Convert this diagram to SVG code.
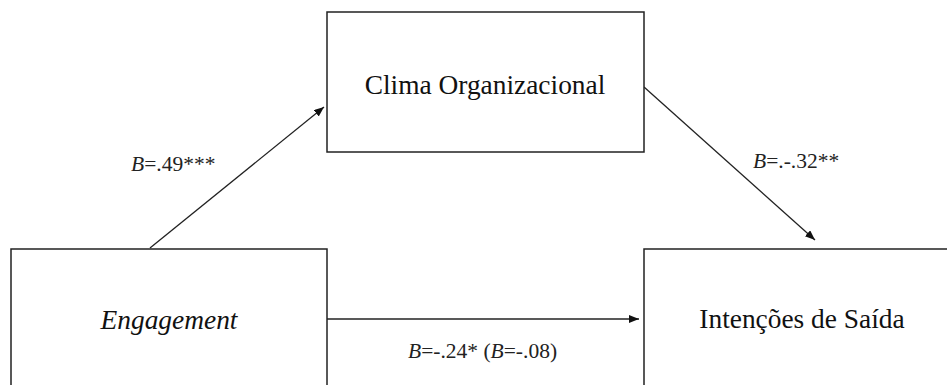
<svg xmlns="http://www.w3.org/2000/svg" width="947" height="385" viewBox="0 0 947 385">
<style>
.box{fill:#fff;stroke:#222;stroke-width:1.5}
.node{font-size:27.4px;fill:#111;text-anchor:middle}
.lbl{font-size:21.5px;fill:#222}
.conn{stroke:#222;stroke-width:1.3;fill:none;marker-end:url(#ah)}
</style>
<defs>
<marker id="ah" markerUnits="userSpaceOnUse" markerWidth="12" markerHeight="10" refX="10" refY="4" orient="auto">
<path d="M0,0 L10,4 L0,8 Z" fill="#111"/>
</marker>
</defs>
<rect width="947" height="385" fill="#fff"/>
<g id="connectors">
<line class="conn" x1="150" y1="248" x2="324" y2="107"/>
<line class="conn" x1="644" y1="87" x2="815" y2="240"/>
<line class="conn" x1="327" y1="319" x2="639" y2="319"/>
</g>
<g font-family="Liberation Serif, DejaVu Serif, serif">
<g id="clima">
<rect class="box" x="327" y="12" width="317" height="140"/>
<text class="node" x="485" y="94">Clima Organizacional</text>
</g>
<g id="engagement">
<rect class="box" x="11" y="249" width="316" height="150"/>
<text class="node" x="169" y="329" font-style="italic">Engagement</text>
</g>
<g id="intencoes">
<rect class="box" x="644" y="249" width="320" height="150"/>
<text class="node" x="802" y="328">Intenções de Saída</text>
</g>
<g id="labels">
<text class="lbl" x="131" y="171"><tspan font-style="italic">B</tspan>=.49***</text>
<text class="lbl" x="753" y="168"><tspan font-style="italic">B</tspan>=.-.32**</text>
<text class="lbl" x="408" y="358"><tspan font-style="italic">B</tspan>=-.24* (<tspan font-style="italic">B</tspan>=-.08)</text>
</g>
</g>
</svg>
